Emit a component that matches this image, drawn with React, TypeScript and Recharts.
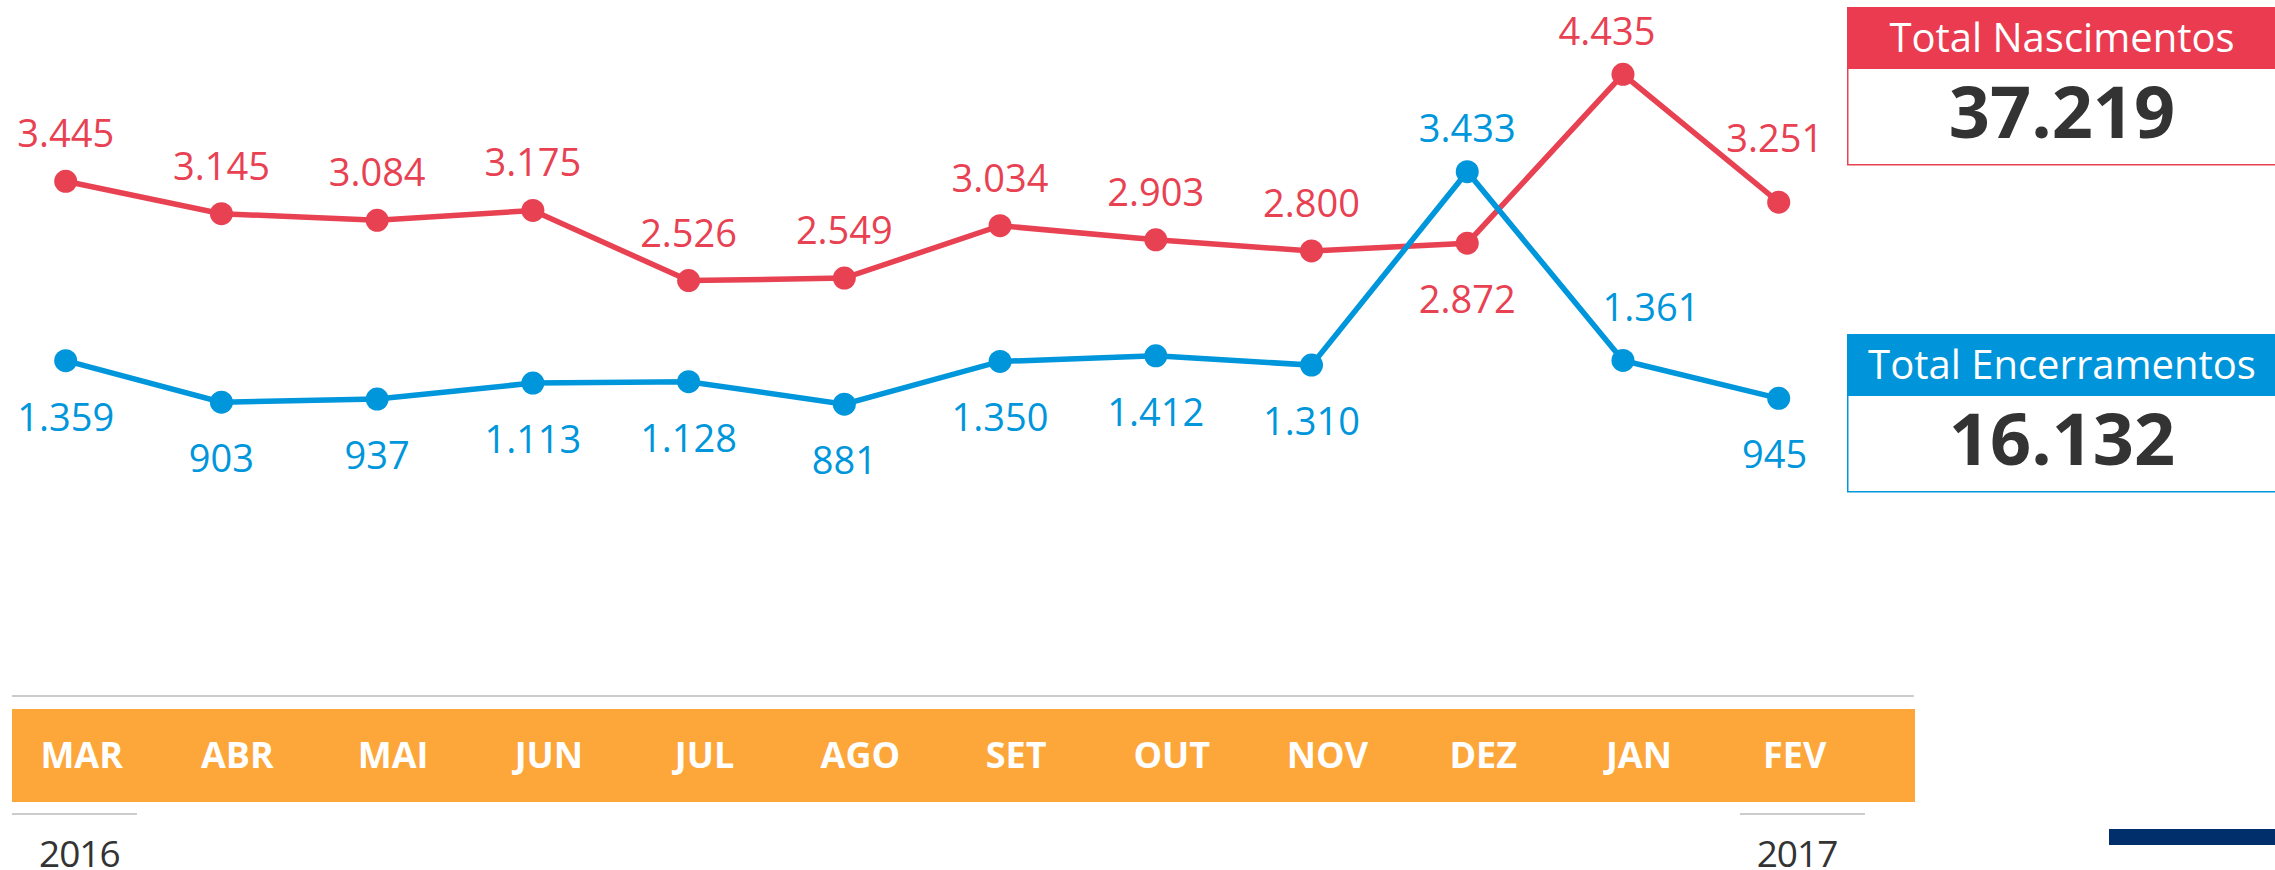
import React from 'react';
import { LineChart, Line, XAxis, YAxis, LabelList } from 'recharts';

// meses do periodo mar/2016 - fev/2017
const months = ['MAR', 'ABR', 'MAI', 'JUN', 'JUL', 'AGO', 'SET', 'OUT', 'NOV', 'DEZ', 'JAN', 'FEV'];
const nascimentos = [3445, 3145, 3084, 3175, 2526, 2549, 3034, 2903, 2800, 2872, 4435, 3251];
const encerramentos = [1359, 903, 937, 1113, 1128, 881, 1350, 1412, 1310, 3433, 1361, 945];
const years = ['2016', '2017'];

const RED = '#E84152';
const RED_HEAD = '#EA3B51';
const BLUE = '#0096DB';
const BLUE_HEAD = '#0095DA';
const ORANGE = '#FDA63A';
const FONT = '"Open Sans", "Noto Sans", sans-serif';

// label offsets (px from the dot) where the label is not in its default spot
type Off = { dx?: number; dy?: number };
const redLabelOff: Record<string, Off> = { DEZ: { dy: 70 }, JAN: { dx: -16, dy: -29 }, FEV: { dx: -4, dy: -50 } };
const blueLabelOff: Record<string, Off> = { DEZ: { dy: -30 }, JAN: { dx: 28, dy: -39 }, FEV: { dx: -4 } };

const data = months.map((m, i) => ({
  month: m,
  nascimentos: nascimentos[i],
  encerramentos: encerramentos[i],
}));

const sum = (arr: number[]) => arr.reduce((a, b) => a + b, 0);
const fmt = (v: number) => String(v).replace(/\B(?=(\d{3})+(?!\d))/g, '.');

const makeLabel = (color: string, offMap: Record<string, Off>, defaultDy: number) => (props: any) => {
  const { x, y, value, index } = props;
  const off = offMap[months[index]] || {};
  return (
    <text
      x={x + (off.dx ?? 0)}
      y={y + (off.dy ?? defaultDy)}
      textAnchor="middle"
      fill={color}
      fontSize={38}
      fontFamily={FONT}
    >
      {fmt(value)}
    </text>
  );
};

const MonthTick = (props: any) => {
  const { x, payload } = props;
  return (
    <text
      x={x + 16}
      y={768}
      textAnchor="middle"
      fill="#ffffff"
      fontSize={36}
      fontWeight={700}
      fontFamily={FONT}
    >
      {payload.value}
    </text>
  );
};

function TotalBox({ top, title, value, head, border }: { top: number; title: string; value: number; head: string; border: string }) {
  const left = 1847;
  const w = 432;
  const cx = left + 215;
  return (
    <g>
      <rect x={left + 0.75} y={top + 0.75} width={w} height={157} fill="#fff" stroke={border} strokeWidth={1.5} />
      <rect x={left} y={top} width={w} height={62} fill={head} />
      <text x={cx} y={top + 45} textAnchor="middle" fill="#fff" fontSize={40} fontFamily={FONT}>
        {title}
      </text>
      <text x={cx} y={top + 131} textAnchor="middle" fill="#333333" fontSize={72} fontWeight={700} fontFamily={FONT}>
        {fmt(value)}
      </text>
    </g>
  );
}

export default function App() {
  return (
    <div style={{ position: 'absolute', left: 0, top: 0, width: 2275, height: 870, background: '#fff', overflow: 'hidden' }}>
      <svg width={2275} height={870} style={{ position: 'absolute', left: 0, top: 0 }}>
        <rect x={12} y={695} width={1902} height={2} fill="#CCCCCC" />
        <rect x={12} y={709} width={1903} height={93} fill={ORANGE} />
        <rect x={12} y={813} width={125} height={2} fill="#CCCCCC" />
        <rect x={1740} y={813} width={125} height={2} fill="#CCCCCC" />
        <text x={39} y={867} fill="#333333" fontSize={37} letterSpacing={-1} fontFamily={FONT}>
          {years[0]}
        </text>
        <text x={1797} y={867} textAnchor="middle" fill="#333333" fontSize={37} letterSpacing={-1} fontFamily={FONT}>
          {years[1]}
        </text>
        <rect x={2109} y={829} width={166} height={16} fill="#002F6C" />
        <TotalBox top={7} title="Total Nascimentos" value={sum(nascimentos)} head={RED_HEAD} border={RED} />
        <TotalBox top={334} title="Total Encerramentos" value={sum(encerramentos)} head={BLUE_HEAD} border={BLUE} />
      </svg>
      <div style={{ position: 'absolute', left: 0, top: 0 }}>
        <LineChart
          width={1920}
          height={870}
          data={data}
          margin={{ top: 40, right: 141.3, bottom: 90, left: 65.7 }}
        >
          <XAxis
            dataKey="month"
            axisLine={false}
            tickLine={false}
            interval={0}
            height={300}
            tick={<MonthTick />}
          />
          <YAxis yAxisId="nasc" hide domain={[681, 4752]} allowDataOverflow />
          <YAxis yAxisId="enc" hide domain={[49, 4878]} allowDataOverflow />
          <Line
            yAxisId="nasc"
            type="linear"
            dataKey="nascimentos"
            stroke={RED}
            strokeWidth={5.5}
            dot={{ r: 11.5, fill: RED, stroke: RED, strokeWidth: 0 }}
            activeDot={false}
            isAnimationActive={false}
          >
            <LabelList dataKey="nascimentos" content={makeLabel(RED, redLabelOff, -34)} />
          </Line>
          <Line
            yAxisId="enc"
            type="linear"
            dataKey="encerramentos"
            stroke={BLUE}
            strokeWidth={5.5}
            dot={{ r: 11.5, fill: BLUE, stroke: BLUE, strokeWidth: 0 }}
            activeDot={false}
            isAnimationActive={false}
          >
            <LabelList dataKey="encerramentos" content={makeLabel(BLUE, blueLabelOff, 70)} />
          </Line>
        </LineChart>
      </div>
    </div>
  );
}
